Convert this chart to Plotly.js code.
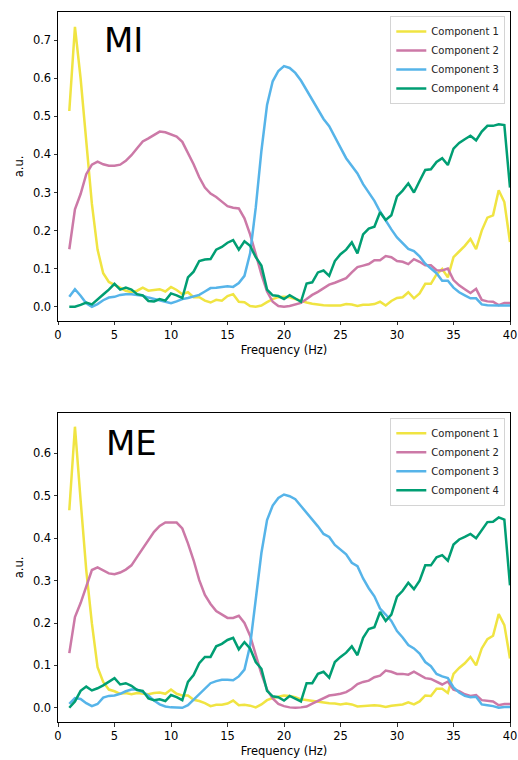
<!DOCTYPE html>
<html>
<head>
<meta charset="utf-8">
<script src="https://cdn.plot.ly/plotly-3.0.1.min.js"></script>
<style>html,body{margin:0;padding:0;background:#fff;}#chart{width:518px;height:760px;}</style>
</head>
<body>
<div id="chart"></div>
<script>
const freqs = [1,1.5,2,2.5,3,3.5,4,4.5,5,5.5,6,6.5,7,7.5,8,8.5,9,9.5,10,10.5,
  11,11.5,12,12.5,13,13.5,14,14.5,15,15.5,16,16.5,17,17.5,18,18.5,19,19.5,20,20.5,
  21,21.5,22,22.5,23,23.5,24,24.5,25,25.5,26,26.5,27,27.5,28,28.5,29,29.5,30,30.5,
  31,31.5,32,32.5,33,33.5,34,34.5,35,35.5,36,36.5,37,37.5,38,38.5,39,39.5,40];

const componentNames = ["Component 1","Component 2","Component 3","Component 4"];
const panelLabels = ["MI","ME"];
const xTickVals = [0,5,10,15,20,25,30,35,40];
const yTickValsMI = [0,0.1,0.2,0.3,0.4,0.5,0.6,0.7];
const yTickValsME = [0,0.1,0.2,0.3,0.4,0.5,0.6];

const mi_c1 = [0.514,0.735,0.60,0.44,0.27,0.15,0.088,0.065,0.058,0.05,
  0.042,0.038,0.042,0.05,0.042,0.044,0.046,0.04,0.052,0.044,
  0.033,0.038,0.025,0.025,0.016,0.011,0.018,0.016,0.028,0.033,
  0.013,0.012,0.002,0.0,0.003,0.012,0.02,0.025,0.026,0.025,
  0.02,0.015,0.011,0.008,0.005,0.004,0.003,0.003,0.003,0.007,
  0.006,0.002,0.005,0.005,0.007,0.013,0.003,0.015,0.023,0.025,
  0.038,0.022,0.035,0.06,0.06,0.085,0.099,0.077,0.13,0.145,
  0.16,0.178,0.151,0.2,0.234,0.24,0.306,0.275,0.17];
const mi_c2 = [0.151,0.256,0.296,0.348,0.373,0.381,0.374,0.37,0.37,0.373,
  0.383,0.398,0.416,0.434,0.442,0.451,0.46,0.458,0.453,0.447,
  0.433,0.405,0.374,0.34,0.313,0.297,0.288,0.276,0.264,0.26,
  0.258,0.232,0.19,0.138,0.085,0.04,0.013,0.002,0.0,0.002,
  0.005,0.01,0.02,0.031,0.039,0.048,0.058,0.063,0.068,0.075,
  0.09,0.104,0.108,0.112,0.122,0.122,0.133,0.13,0.12,0.118,
  0.112,0.125,0.118,0.109,0.109,0.096,0.095,0.1,0.07,0.056,
  0.046,0.036,0.047,0.018,0.014,0.013,0.004,0.01,0.01];
const mi_c3 = [0.026,0.046,0.029,0.009,0.0,0.007,0.017,0.024,0.026,0.031,
  0.033,0.033,0.031,0.029,0.024,0.02,0.018,0.013,0.009,0.014,
  0.02,0.023,0.026,0.031,0.04,0.049,0.05,0.053,0.054,0.052,
  0.062,0.081,0.14,0.26,0.409,0.53,0.592,0.619,0.632,0.627,
  0.614,0.594,0.568,0.545,0.518,0.493,0.474,0.444,0.418,0.39,
  0.37,0.35,0.322,0.3,0.278,0.25,0.226,0.203,0.182,0.166,
  0.152,0.146,0.132,0.113,0.1,0.088,0.068,0.068,0.05,0.038,
  0.03,0.022,0.022,0.006,0.004,0.003,0.003,0.003,0.003];
const mi_c4 = [0,0.0,0.005,0.011,0.006,0.02,0.032,0.045,0.06,0.045,
  0.05,0.045,0.033,0.03,0.015,0.014,0.02,0.016,0.035,0.03,
  0.023,0.077,0.092,0.12,0.124,0.125,0.15,0.157,0.168,0.175,
  0.15,0.172,0.16,0.13,0.108,0.045,0.03,0.028,0.02,0.03,
  0.022,0.013,0.061,0.064,0.09,0.095,0.081,0.12,0.138,0.15,
  0.169,0.14,0.19,0.205,0.21,0.248,0.228,0.24,0.29,0.305,
  0.324,0.3,0.33,0.359,0.361,0.38,0.39,0.372,0.415,0.43,
  0.44,0.449,0.437,0.46,0.475,0.475,0.479,0.477,0.313];

const me_c1 = [0.466,0.663,0.49,0.325,0.199,0.096,0.061,0.043,0.039,0.033,
  0.035,0.032,0.035,0.033,0.032,0.035,0.036,0.033,0.043,0.033,
  0.029,0.029,0.019,0.016,0.011,0.004,0.007,0.007,0.01,0.017,
  0.006,0.007,0.005,0.001,0.008,0.018,0.023,0.026,0.029,0.028,
  0.025,0.02,0.018,0.016,0.014,0.012,0.011,0.01,0.008,0.01,
  0.008,0.003,0.004,0.005,0.006,0.005,0.002,0.005,0.007,0.008,
  0.013,0.008,0.015,0.029,0.028,0.045,0.045,0.035,0.08,0.094,
  0.105,0.12,0.1,0.14,0.162,0.17,0.221,0.195,0.116];
const me_c2 = [0.129,0.214,0.247,0.285,0.325,0.331,0.323,0.317,0.315,0.319,
  0.326,0.336,0.356,0.376,0.396,0.415,0.429,0.437,0.437,0.437,
  0.423,0.388,0.348,0.301,0.266,0.245,0.228,0.219,0.212,0.212,
  0.217,0.2,0.17,0.125,0.08,0.043,0.022,0.009,0.004,0.001,
  0.0,0.001,0.003,0.01,0.017,0.024,0.029,0.031,0.033,0.037,
  0.045,0.056,0.061,0.064,0.072,0.076,0.088,0.085,0.08,0.08,
  0.078,0.085,0.078,0.07,0.068,0.061,0.055,0.062,0.043,0.039,
  0.032,0.028,0.03,0.018,0.016,0.015,0.006,0.009,0.009];
const me_c3 = [0.009,0.023,0.021,0.011,0.004,0.009,0.024,0.028,0.029,0.033,
  0.039,0.043,0.043,0.037,0.029,0.017,0.008,0.003,0.001,0.0,
  0.0,0.006,0.019,0.033,0.047,0.058,0.063,0.066,0.066,0.065,
  0.074,0.09,0.147,0.262,0.365,0.443,0.477,0.495,0.503,0.499,
  0.492,0.476,0.46,0.445,0.428,0.41,0.403,0.384,0.374,0.362,
  0.342,0.334,0.305,0.282,0.263,0.234,0.22,0.205,0.181,0.166,
  0.148,0.14,0.128,0.108,0.098,0.08,0.074,0.07,0.048,0.036,
  0.028,0.025,0.026,0.008,0.006,0.004,0.0,0.002,0.002];
const me_c4 = [0,0.015,0.04,0.05,0.041,0.046,0.053,0.062,0.07,0.055,
  0.058,0.052,0.042,0.04,0.022,0.018,0.02,0.016,0.03,0.025,
  0.018,0.061,0.077,0.105,0.12,0.12,0.145,0.151,0.16,0.165,
  0.138,0.155,0.14,0.108,0.092,0.04,0.027,0.025,0.017,0.028,
  0.022,0.015,0.058,0.058,0.08,0.085,0.071,0.108,0.12,0.13,
  0.145,0.124,0.165,0.186,0.19,0.226,0.205,0.22,0.262,0.276,
  0.295,0.28,0.3,0.336,0.336,0.355,0.36,0.347,0.385,0.397,
  0.403,0.41,0.4,0.42,0.438,0.439,0.449,0.444,0.289];

const colors = ["#F0E442","#CC79A7","#56B4E9","#009E73"];
const FONT = "DejaVu Sans, Verdana, sans-serif";

const miSeries = [mi_c1, mi_c2, mi_c3, mi_c4];
const meSeries = [me_c1, me_c2, me_c3, me_c4];

const traces = [];
miSeries.forEach((ys, i) => traces.push({
  x: freqs, y: ys, type: "scatter", mode: "lines", name: componentNames[i],
  line: {color: colors[i], width: 2.5}, xaxis: "x", yaxis: "y", legend: "legend"
}));
meSeries.forEach((ys, i) => traces.push({
  x: freqs, y: ys, type: "scatter", mode: "lines", name: componentNames[i],
  line: {color: colors[i], width: 2.5}, xaxis: "x2", yaxis: "y2", legend: "legend2"
}));

const axisCommon = {
  showline: true, mirror: true, linecolor: "#000", linewidth: 1,
  ticks: "outside", ticklen: 3.5, tickwidth: 0.8, tickcolor: "#000",
  showgrid: false, zeroline: false,
  tickfont: {family: FONT, size: 11.5, color: "#000"}
};
const xCommon = Object.assign({}, axisCommon, {
  range: [0, 40], tickvals: xTickVals, ticktext: xTickVals.map(String),
  title: {text: "Frequency (Hz)", font: {family: FONT, size: 11.5, color: "#000"}, standoff: 4}
});
const yTitle = {text: "a.u.", font: {family: FONT, size: 11.5, color: "#000"}, standoff: 6};

const legendCommon = {
  font: {family: FONT, size: 10, color: "#222"},
  bgcolor: "rgba(255,255,255,0.8)", bordercolor: "#d4d4d4", borderwidth: 1,
  xanchor: "right", yanchor: "top", x: 0.9896, tracegroupgap: 0
};

const layout = {
  width: 518, height: 760,
  margin: {l: 58, r: 8, t: 12, b: 38},
  paper_bgcolor: "#fff", plot_bgcolor: "#fff",
  showlegend: true,
  xaxis: Object.assign({}, xCommon, {domain: [0, 1], anchor: "y"}),
  yaxis: Object.assign({}, axisCommon, {domain: [0.5648, 1], anchor: "x",
    range: [-0.0375, 0.774], tickvals: yTickValsMI, ticktext: yTickValsMI.map(v => v.toFixed(1)),
    title: yTitle}),
  xaxis2: Object.assign({}, xCommon, {domain: [0, 1], anchor: "y2"}),
  yaxis2: Object.assign({}, axisCommon, {domain: [0, 0.4356], anchor: "x2",
    range: [-0.0335, 0.696], tickvals: yTickValsME, ticktext: yTickValsME.map(v => v.toFixed(1)),
    title: yTitle}),
  legend: Object.assign({}, legendCommon, {y: 0.9944}),
  legend2: Object.assign({}, legendCommon, {y: 0.4286}),
  annotations: [
    {text: panelLabels[0], xref: "paper", yref: "paper", x: 0.098, y: 0.9606,
     xanchor: "left", yanchor: "middle", showarrow: false,
     font: {family: FONT, size: 34, color: "#000"}},
    {text: panelLabels[1], xref: "paper", yref: "paper", x: 0.102, y: 0.393,
     xanchor: "left", yanchor: "middle", showarrow: false,
     font: {family: FONT, size: 34, color: "#000"}}
  ]
};

Plotly.newPlot("chart", traces, layout, {displayModeBar: false, staticPlot: true});
</script>
</body>
</html>
